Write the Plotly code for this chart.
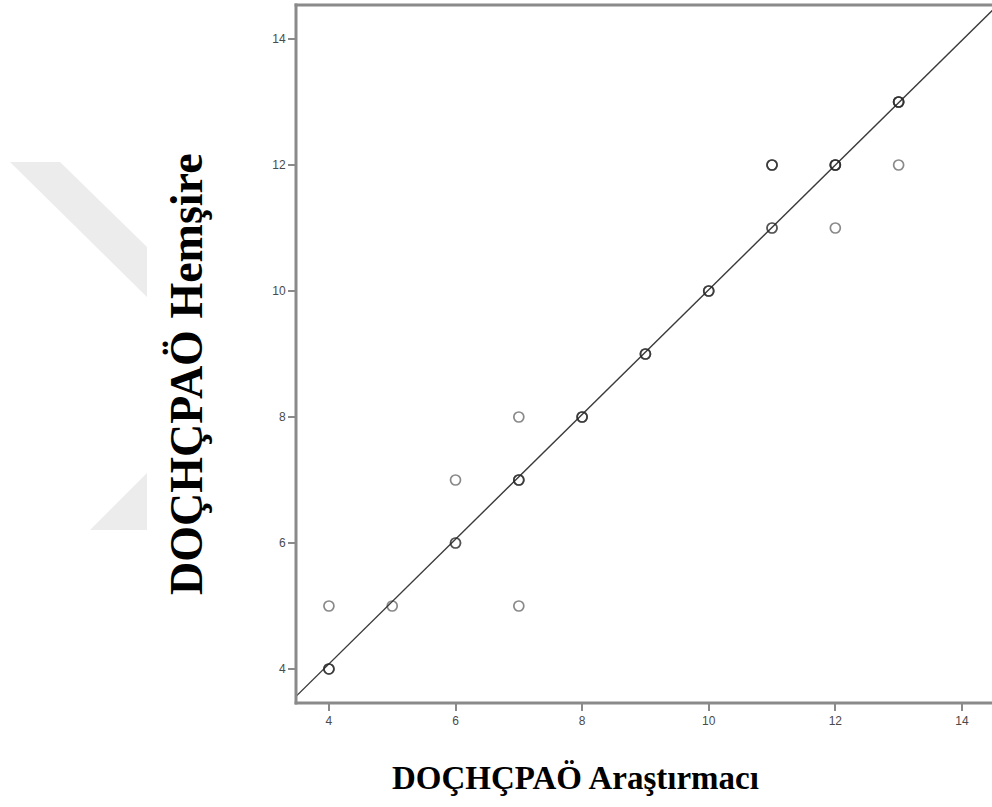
import plotly.graph_objects as go

# Paired DOÇHÇPAÖ scores: researcher (x) vs nurse (y), with number of overlapping cases
arastirmaci = [4, 4, 5, 6, 6, 7, 7, 7, 8, 9, 10, 11, 11, 12, 12, 13, 13]
hemsire     = [4, 5, 5, 6, 7, 5, 7, 8, 8, 9, 10, 11, 12, 11, 12, 12, 13]
vaka_sayisi = [3, 1, 1, 2, 1, 1, 3, 1, 3, 3, 3, 2, 3, 1, 4, 1, 4]

# Fitted line (slope, intercept)
egim = 0.99
kesim = 0.12

tick_vals = [4, 6, 8, 10, 12, 14]
x_range = [3.48, 14.475]
y_range = [3.46, 14.54]

x_title = "DOÇHÇPAÖ Araştırmacı"
y_title = "DOÇHÇPAÖ Hemşire"

# expand overlapping cases so repeated pairs darken
xs, ys = [], []
for a, h, n in zip(arastirmaci, hemsire, vaka_sayisi):
    xs += [a] * n
    ys += [h] * n

fig = go.Figure()

line_x = [x_range[0], x_range[1] + 0.5]
line_y = [egim * v + kesim for v in line_x]
fig.add_trace(go.Scatter(
    x=line_x, y=line_y, mode="lines",
    line=dict(color="#3a3a3a", width=1.4),
    hoverinfo="skip", showlegend=False,
))

fig.add_trace(go.Scatter(
    x=xs, y=ys, mode="markers",
    marker=dict(symbol="circle-open", size=10, color="rgba(40,40,40,0.55)",
                line=dict(width=1.7)),
    showlegend=False,
))

# plot frame in pixels
L, T, W, H = 296, 5, 696, 698
def pxp(x, y):
    return (x - L) / W, (T + H - y) / H

def path(points):
    return "M " + " L ".join("{:.4f},{:.4f}".format(*pxp(*p)) for p in points) + " Z"

frame = dict(color="#8a8a8a", width=3)
shapes = [
    # faint background emblem on the left margin
    dict(type="path", path=path([(10, 162), (60, 162), (147, 247), (147, 297)]),
         xref="paper", yref="paper", fillcolor="#ececec", line=dict(width=0), layer="below"),
    dict(type="path", path=path([(147, 473), (147, 530), (90, 530)]),
         xref="paper", yref="paper", fillcolor="#ececec", line=dict(width=0), layer="below"),
    # open frame: left, bottom and top edges
    dict(type="line", xref="paper", yref="paper", x0=0, x1=0, y0=-0.002, y1=1.002, line=frame),
    dict(type="line", xref="paper", yref="paper", x0=-0.002, x1=1.0, y0=0, y1=0, line=frame),
    dict(type="line", xref="paper", yref="paper", x0=-0.002, x1=1.0, y0=1, y1=1, line=frame),
]

axis_common = dict(
    showgrid=False, zeroline=False, showline=False, mirror=False,
    ticks="outside", ticklen=7, tickwidth=2, tickcolor="#8a8a8a",
    tickvals=tick_vals,
    tickfont=dict(family="Liberation Sans, Arial", size=12, color="#4a4a4a"),
)

title_font = dict(family="Liberation Serif, Times New Roman", color="black")
ax, ay = pxp(575, 778)
bx, by = pxp(187, 374)
annotations = [
    dict(text="<b>" + x_title + "</b>", xref="paper", yref="paper", x=ax, y=ay,
         xanchor="center", yanchor="middle", showarrow=False,
         font=dict(size=33, **title_font)),
    dict(text="<b>" + y_title + "</b>", xref="paper", yref="paper", x=bx, y=by,
         xanchor="center", yanchor="middle", showarrow=False, textangle=-90,
         font=dict(size=46, **title_font)),
]

fig.update_layout(
    width=992, height=807,
    margin=dict(l=L, r=0, t=T, b=807 - T - H),
    paper_bgcolor="white", plot_bgcolor="white",
    shapes=shapes, annotations=annotations,
    xaxis=dict(range=x_range, **axis_common),
    yaxis=dict(range=y_range, **axis_common),
)

fig.write_html("out.html")
